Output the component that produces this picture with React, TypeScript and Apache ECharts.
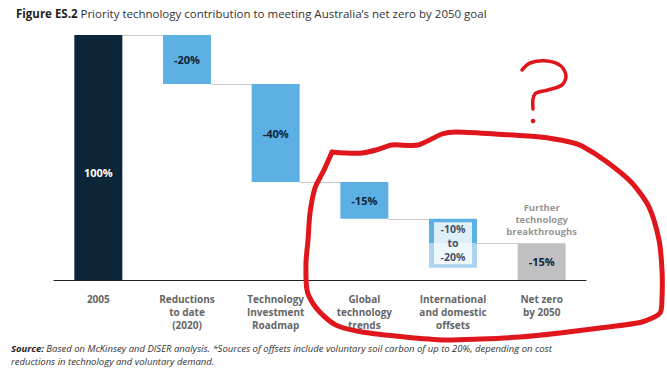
import React, { useEffect, useRef } from "react";
import * as echarts from "echarts";

const categories = [
  "2005",
  "Reductions\nto date\n(2020)",
  "Technology\nInvestment\nRoadmap",
  "Global\ntechnology\ntrends",
  "International\nand domestic\noffsets",
  "Net zero\nby 2050",
];
// invisible base of each floating bar (%)
const baseValues = [0, 80, 40, 25, 5, 0];
// lower (uncertain) part of the offsets range (%)
const rangeValues = [0, 0, 0, 0, 10, 0];
// main visible bar heights (%)
const mainValues = [100, 20, 40, 15, 10, 15];
const mainLabels = ["100%", "-20%", "-40%", "-15%", "", "-15%"];
const barKinds = ["total", "step", "step", "step", "step", "end"];
const offsetsLabel = "-10%\nto\n-20%";
const furtherLabel = "Further\ntechnology\nbreakthroughs";

const NAVY = "#0d2539";
const BLUE = "#5cb0e4";
const LIGHT = "#acd4f1";
const GREY = "#c0c0c2";
const RED = "#e0161d";
const FONT = "'Open Sans', sans-serif";

const loopPts = [
  [332, 152], [346, 153], [362, 153], [376, 150], [392, 145], [418, 145], [442, 134],
  [456, 132], [495, 134], [540, 137], [570, 142], [582, 146], [607, 162], [632, 183],
  [649, 207], [659, 240], [662, 270], [662, 298], [660, 313], [642, 322], [600, 328],
  [560, 333], [520, 337], [480, 339], [445, 340], [405, 337], [362, 332], [338, 326],
  [326, 318], [314, 305], [307, 290], [306, 263], [308, 240], [310, 213], [315, 188],
  [324, 170], [332, 152],
];
const qPts = [
  [522, 70], [530, 63], [547, 61], [561, 66], [566, 76], [562, 85], [548, 90],
  [536, 93], [533, 99], [533, 109],
];

export default function App() {
  const ref = useRef<HTMLDivElement>(null);
  useEffect(() => {
    const chart = echarts.init(ref.current!, null, { renderer: "svg" });
    const tops = baseValues.map((b, i) => b + rangeValues[i] + mainValues[i]);
    const connectors = tops.slice(1).map((t, i) => [i, t]);
    chart.setOption({
      animation: false,
      textStyle: { fontFamily: FONT },
      title: [
        {
          text: "{b|Figure ES.2} Priority technology contribution to meeting Australia\u2019s net zero by 2050 goal",
          left: 11,
          top: 2,
          textStyle: {
            fontFamily: FONT,
            fontSize: 11.5,
            fontWeight: "normal",
            color: "#333",
            rich: { b: { fontFamily: FONT, fontSize: 11.5, fontWeight: "bold", color: "#222" } },
          },
        },
        {
          text: "{b|Source:} Based on McKinsey and DISER analysis. *Sources of offsets include voluntary soil carbon of up to 20%, depending on cost\nreductions in technology and voluntary demand.",
          left: 11,
          top: 342,
          padding: 0,
          textStyle: {
            fontFamily: FONT,
            fontSize: 9.5,
            fontStyle: "italic",
            fontWeight: "normal",
            color: "#333",
            lineHeight: 13,
            rich: {
              b: { fontFamily: FONT, fontSize: 9.5, fontStyle: "italic", fontWeight: "bold", color: "#222", lineHeight: 13 },
            },
          },
        },
      ],
      grid: { left: 54, right: 81, top: 35, bottom: 92, containLabel: false },
      xAxis: {
        type: "category",
        data: categories,
        axisLine: { lineStyle: { color: "#222", width: 1.2 } },
        axisTick: { show: false },
        axisLabel: {
          interval: 0,
          color: "#666",
          fontFamily: FONT,
          fontWeight: "bold",
          fontSize: 10,
          lineHeight: 13,
          margin: 12,
        },
      },
      yAxis: { type: "value", min: 0, max: 100, show: false, splitLine: { show: false } },
      series: [
        {
          type: "bar",
          stack: "w",
          barWidth: 48,
          data: baseValues,
          itemStyle: { color: "transparent" },
          silent: true,
        },
        {
          type: "bar",
          stack: "w",
          barWidth: 48,
          data: rangeValues,
          itemStyle: { color: LIGHT },
        },
        {
          type: "bar",
          stack: "w",
          barWidth: 48,
          data: mainValues.map((v, i) => ({
            value: v,
            itemStyle: { color: barKinds[i] === "total" ? NAVY : barKinds[i] === "end" ? GREY : BLUE },
            label: {
              show: mainLabels[i] !== "",
              formatter: mainLabels[i],
              position: "inside",
              offset: barKinds[i] === "total" ? [0, 15] : [0, 0],
              color: barKinds[i] === "total" ? "#fff" : NAVY,
              fontFamily: FONT,
              fontWeight: "bold",
              fontSize: 11,
            },
          })),
        },
        {
          type: "custom",
          data: connectors,
          renderItem: (params: any, api: any) => {
            const i = api.value(0);
            const lvl = api.value(1);
            const p1 = api.coord([i, lvl]);
            const p2 = api.coord([i + 1, lvl]);
            const y = Math.round(p1[1]) + 0.5;
            return {
              type: "line",
              shape: { x1: p1[0] + 24, y1: y, x2: p2[0] - 24, y2: y },
              style: { stroke: "#c9c9c9", lineWidth: 1 },
            };
          },
          z: 1,
        },
        {
          type: "scatter",
          symbolSize: 0,
          z: 5,
          data: [
            {
              value: [4, 15],
              label: {
                show: true,
                position: "inside",
                formatter: offsetsLabel,
                backgroundColor: "#fff",
                width: 38,
                height: 42,
                align: "center",
                verticalAlign: "middle",
                color: NAVY,
                fontFamily: FONT,
                fontWeight: "bold",
                fontSize: 10.5,
                lineHeight: 14,
              },
            },
            {
              value: [5, 15],
              label: {
                show: true,
                position: "top",
                distance: 6,
                formatter: furtherLabel,
                color: "#777",
                fontFamily: FONT,
                fontWeight: "bold",
                fontSize: 9.5,
                lineHeight: 12,
              },
            },
          ],
        },
      ],
      graphic: [
        {
          type: "polyline",
          shape: { points: loopPts, smooth: 0.25 },
          style: { stroke: RED, lineWidth: 5, fill: null, lineJoin: "round", lineCap: "round" },
          z: 100,
        },
        {
          type: "polyline",
          shape: { points: qPts, smooth: 0.3 },
          style: { stroke: RED, lineWidth: 3.5, fill: null, lineJoin: "round", lineCap: "round" },
          z: 100,
        },
        {
          type: "circle",
          shape: { cx: 533, cy: 121, r: 2.3 },
          style: { fill: RED },
          z: 100,
        },
      ],
    });
    return () => chart.dispose();
  }, []);
  return (
    <div
      ref={ref}
      style={{ position: "fixed", left: 0, top: 0, width: 667, height: 372, background: "#fff" }}
    />
  );
}
